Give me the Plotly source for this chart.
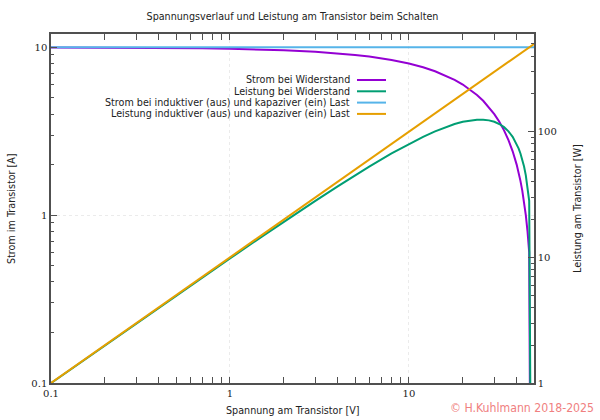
import plotly.graph_objects as go

# ---- data ----
spannung = [0.1, 0.2, 0.3, 0.5, 0.7, 1, 1.5, 2, 3, 4, 5, 6, 8, 10, 12, 14, 16, 18, 20,
            22, 24, 26, 28, 30, 32, 34, 36, 38, 40, 41, 42, 43, 44, 45, 46, 47, 50]
strom_widerstand = [9.98, 9.96, 9.94, 9.9, 9.86, 9.8, 9.7, 9.6, 9.4, 9.2, 9.0, 8.8, 8.4, 8.0,
                    7.6, 7.2, 6.8, 6.4, 6.0, 5.6, 5.2, 4.8, 4.4, 4.0, 3.6, 3.2, 2.8, 2.4,
                    2.0, 1.8, 1.6, 1.4, 1.2, 1.0, 0.8, 0.6, 1e-6]
leistung_widerstand = [0.998, 1.992, 2.982, 4.95, 6.902, 9.8, 14.55, 19.2, 28.2, 36.8, 45,
                       52.8, 67.2, 80, 91.2, 100.8, 108.8, 115.2, 120, 123.2, 124.8, 124.8,
                       123.2, 120, 115.2, 108.8, 100.8, 91.2, 80, 73.8, 67.2, 60.2, 52.8, 45,
                       36.8, 28.2, 1e-5]
spannung_ind = [0.1, 50]
strom_ind = [10, 10]
leistung_ind = [1, 500]

legend_labels = ["Strom bei Widerstand", "Leistung bei Widerstand",
                 "Strom bei induktiver (aus) und kapaziver (ein) Last",
                 "Leistung induktiver (aus) und kapaziver (ein) Last"]
colors = ["#9400D3", "#009E73", "#56B4E9", "#E69F00"]

x_major = [0.1, 1, 10]
x_minor = [m * d for d in (0.1, 1, 10) for m in range(2, 10) if m * d <= 50]
y_major = [0.1, 1, 10]
y_minor = [m * d for d in (0.1, 1) for m in range(2, 10)]
y2_major = [1, 10, 100]
y2_minor = [m * d for d in (1, 10, 100) for m in range(2, 10) if m * d <= 600]

# plot-area geometry in pixels
L, R, T, B = 51, 534, 34, 383
def px(x):
    return (x - L) / (R - L)
def py(y):
    return (B - y) / (B - T)

fig = go.Figure()
fig.add_trace(go.Scatter(x=spannung, y=strom_widerstand, mode="lines",
                         line=dict(color=colors[0], width=2), yaxis="y", showlegend=False))
fig.add_trace(go.Scatter(x=spannung, y=leistung_widerstand, mode="lines",
                         line=dict(color=colors[1], width=2), yaxis="y2", showlegend=False))
fig.add_trace(go.Scatter(x=spannung_ind, y=strom_ind, mode="lines",
                         line=dict(color=colors[2], width=2), yaxis="y", showlegend=False))
fig.add_trace(go.Scatter(x=spannung_ind, y=leistung_ind, mode="lines",
                         line=dict(color=colors[3], width=2), yaxis="y2", showlegend=False))

frame = "#505050"
txt = "#222222"
FS = 9.6
tickfont = dict(family="DejaVu Serif", size=10, color=txt)
grid = "#ebebeb"

fig.update_layout(
    width=600, height=420,
    margin=dict(l=L, r=600 - R, t=T, b=420 - B),
    paper_bgcolor="white", plot_bgcolor="white",
    font=dict(family="DejaVu Sans", size=FS, color=txt),
    title=dict(text="Spannungsverlauf und Leistung am Transistor beim Schalten",
               x=292.5 / 600, xanchor="center", y=1 - 17 / 420, yanchor="middle",
               font=dict(family="DejaVu Sans", size=FS, color=txt)),
    xaxis=dict(type="log", range=[-1, 1.69897], showline=True, linecolor=frame, linewidth=1.5,
               mirror="allticks", ticks="inside", ticklen=6, tickcolor=frame,
               tickmode="array", tickvals=x_major, ticktext=["0.1", "1", "10"],
               tickfont=tickfont, showgrid=True, gridcolor=grid, griddash="dot",
               zeroline=False, automargin=False,
               minor=dict(tickmode="array", tickvals=x_minor, ticks="inside", ticklen=3,
                          tickcolor=frame, showgrid=False)),
    yaxis=dict(type="log", range=[-1, 1.0792], showline=True, linecolor=frame, linewidth=1.5,
               ticks="inside", ticklen=6, tickcolor=frame,
               tickmode="array", tickvals=y_major, ticktext=["0.1", "1", "10"],
               tickfont=tickfont, showgrid=True, gridcolor=grid, griddash="dot",
               zeroline=False, automargin=False,
               minor=dict(tickmode="array", tickvals=y_minor, ticks="inside", ticklen=3,
                          tickcolor=frame, showgrid=False)),
    yaxis2=dict(type="log", range=[0, 2.77815], overlaying="y", side="right",
                showline=True, linecolor=frame, linewidth=1.5,
                ticks="inside", ticklen=6, tickcolor=frame,
                tickmode="array", tickvals=y2_major, ticktext=["1", "10", "100"],
                tickfont=tickfont, showgrid=False, zeroline=False, automargin=False,
                minor=dict(tickmode="array", tickvals=y2_minor, ticks="inside", ticklen=3,
                           tickcolor=frame, showgrid=False)),
)

# axis titles
fig.add_annotation(text="Spannung am Transistor [V]", xref="paper", yref="paper",
                   x=px(292.5), y=py(410), xanchor="center", yanchor="middle",
                   showarrow=False, font=dict(family="DejaVu Sans", size=FS, color=txt))
fig.add_annotation(text="Strom im Transistor [A]", xref="paper", yref="paper",
                   x=px(11), y=py(209), xanchor="center", yanchor="middle", textangle=-90,
                   showarrow=False, font=dict(family="DejaVu Sans", size=FS, color=txt))
fig.add_annotation(text="Leistung am Transistor [W]", xref="paper", yref="paper",
                   x=px(577), y=py(209), xanchor="center", yanchor="middle", textangle=-90,
                   showarrow=False, font=dict(family="DejaVu Sans", size=FS, color=txt))

# gnuplot-style key: right-aligned text with line sample on the right
key_y = [80, 91.3, 102.6, 113.9]
for lab, col, yy in zip(legend_labels, colors, key_y):
    fig.add_annotation(text=lab, xref="paper", yref="paper", x=px(352), y=py(yy),
                       xanchor="right", yanchor="middle", showarrow=False,
                       font=dict(family="DejaVu Sans", size=FS, color=txt))
    fig.add_shape(type="line", xref="paper", yref="paper", x0=px(357), x1=px(386),
                  y0=py(yy), y1=py(yy), line=dict(color=col, width=2))

fig.add_annotation(text="© H.Kuhlmann 2018-2025", xref="paper", yref="paper",
                   x=px(596), y=py(408), xanchor="right", yanchor="middle",
                   showarrow=False,
                   font=dict(family="DejaVu Sans Condensed", size=12.2, color="#F08080"))

fig.write_html("out.html", config={"displayModeBar": False},
               post_script="document.body.style.margin='0';document.body.style.padding='0';")
